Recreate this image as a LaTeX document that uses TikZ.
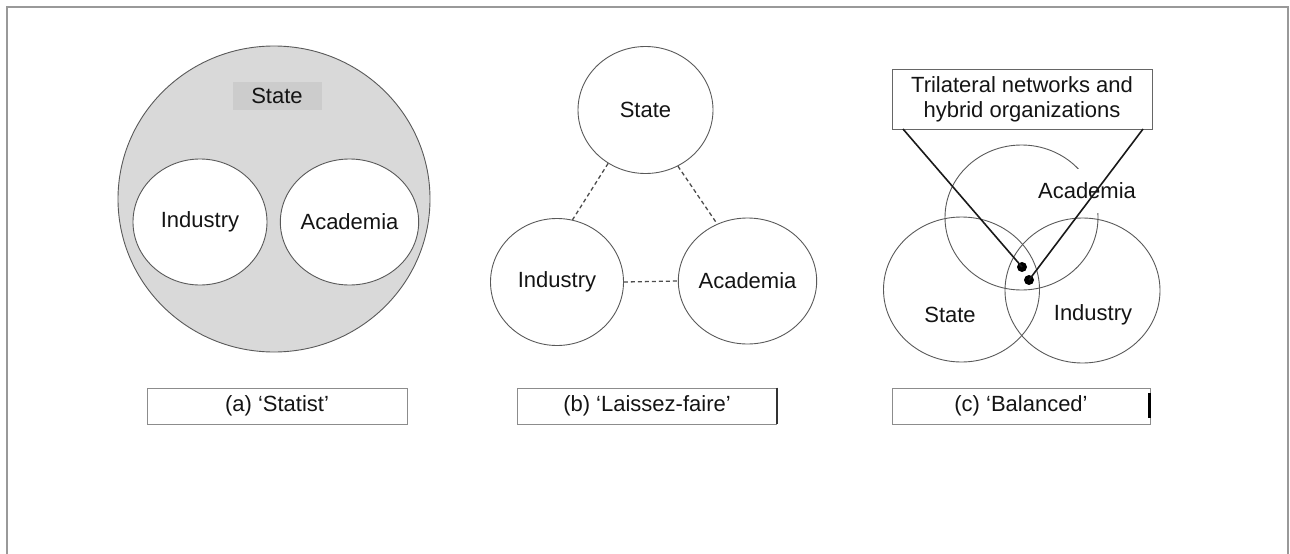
\documentclass[tikz,border=0pt]{standalone}
\usepackage{fontspec}
\setmainfont{Liberation Sans}
\usetikzlibrary{shapes.geometric}
\begin{document}
\begin{tikzpicture}[x=1pt,y=-1pt,
 circ/.style={ellipse, draw=black!65, line width=0.9pt, inner sep=0pt},
 lbl/.style={font=\fontsize{22}{26}\selectfont, text=black!92},
 capbox/.style={draw=black!45, line width=0.9pt, minimum height=36pt, inner sep=0pt, font=\fontsize{22}{26}\selectfont, text=black!92},
 link/.style={draw=black!70, line width=1.3pt, dash pattern=on 4pt off 3pt},
 ptr/.style={draw=black!90, line width=1.6pt},
 dot/.style={circle, fill=black, inner sep=0pt, minimum size=10pt},
]
\useasboundingbox (0,0) rectangle (1290,554);
\draw[black!40, line width=1.2pt] (7,554) -- (7,7) -- (1288,7) -- (1288,554);

% (a) Statist
\node[circ, fill=black!15, minimum width=312pt, minimum height=306pt] (aS) at (274,199) {};
\node[fill=black!20, minimum width=89pt, minimum height=28pt, inner sep=0pt, lbl] (aSl) at (277,96) {State};
\node[circ, fill=white, minimum width=134pt, minimum height=126pt, lbl] (aI) at (200,222) {Industry};
\node[circ, fill=white, minimum width=134pt, minimum height=126pt, lbl] (aA) at (349.5,222) {Academia};
\node[capbox, minimum width=260pt] (aC) at (277,406) {(a) ‘Statist’};

% (b) Laissez-faire
\node[circ, minimum width=135pt, minimum height=127pt, lbl] (bS) at (645.5,110) {State};
\node[circ, minimum width=133pt, minimum height=127pt, lbl] (bI) at (557,282) {Industry};
\node[circ, minimum width=133pt, minimum height=126pt, lbl] (bA) at (747.5,281) {Academia};
\draw[link] (bS.235) -- (bI.76);
\draw[link] (bS.300) -- (bA.118);
\draw[link] (bI.east) -- (bA.west);
\node[capbox, minimum width=259pt] (bC) at (647,406) {(b) ‘Laissez-faire’};
\draw[black!80, line width=1.5pt] (bC.north east) -- (bC.south east);

% (c) Balanced
\node[circ, minimum width=153pt, minimum height=145pt] (cA) at (1021.5,217.5) {};
\node[circ, minimum width=156pt, minimum height=145pt] (cS) at (961.5,289.5) {};
\node[circ, minimum width=155pt, minimum height=145pt] (cI) at (1082.5,290.5) {};
\node[lbl, fill=white, minimum width=110pt, minimum height=44pt, inner sep=0pt] (cAl) at (1087,191) {Academia};
\node[lbl] (cSl) at (950,315) {State};
\node[lbl] (cIl) at (1093,315) {Industry};
\node[draw=black!60, line width=0.9pt, minimum width=260pt, minimum height=60pt, inner sep=0pt, align=center, lbl, font=\fontsize{22}{25}\selectfont] (cT) at (1022,99) {Trilateral networks and\\hybrid organizations};
\coordinate (p1) at (903,129);
\coordinate (p2) at (1143,129);
\node[dot] (d1) at (1022,267) {};
\node[dot] (d2) at (1029,280) {};
\draw[ptr] (p1) -- (d1.center);
\draw[ptr] (p2) -- (d2.center);
\node[capbox, minimum width=258pt] (cC) at (1021,406) {(c) ‘Balanced’};
\draw[black, line width=3pt] (1149,393) -- (1149,418);
\end{tikzpicture}
\end{document}
